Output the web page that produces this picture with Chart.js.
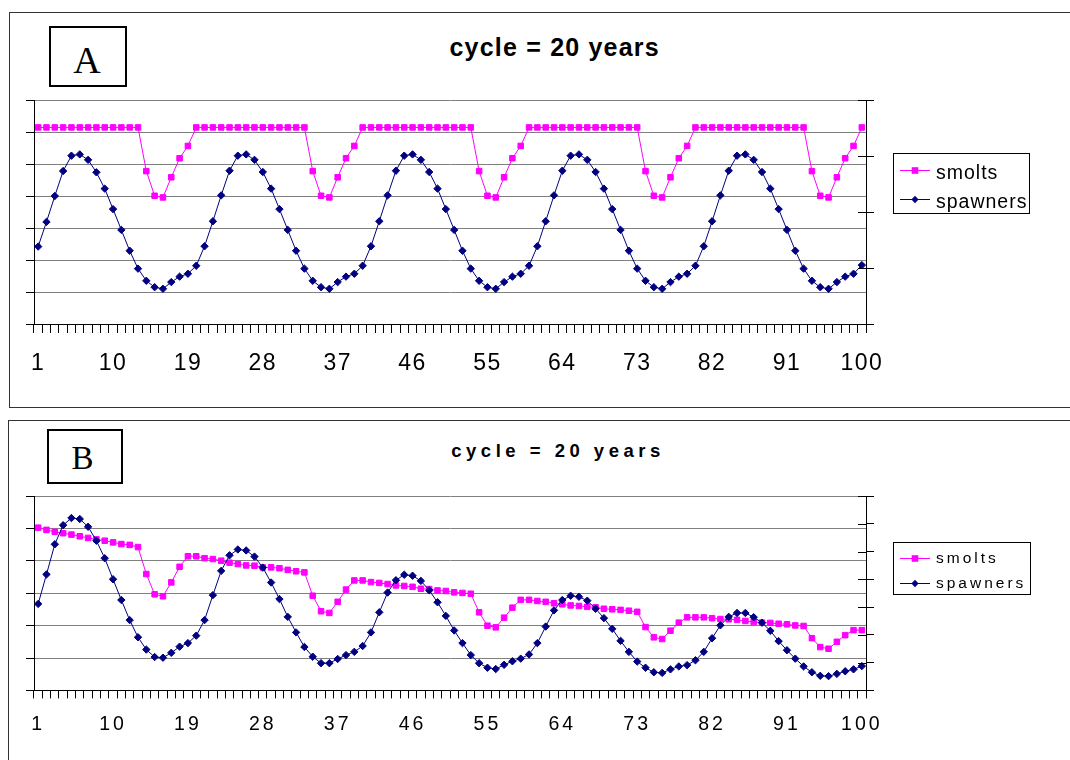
<!DOCTYPE html>
<html>
<head>
<meta charset="utf-8">
<script src="https://cdn.jsdelivr.net/npm/chart.js@4.4.0/dist/chart.umd.min.js"></script>
<style>
  body { margin: 0; background: #fff; width: 1070px; height: 760px; overflow: hidden; position: relative;
         font-family: 'Liberation Sans', Arial, sans-serif; }
  .frame { position: absolute; border: 1px solid #333; }
  .tag { position: absolute; border: 2px solid #000; box-sizing: border-box; }
  .letter { position: absolute; left: 0; text-align: center; font-family: 'Liberation Serif', 'Times New Roman', serif; line-height: 1; }
  .title { position: absolute; left: 0; width: 1107px; text-align: center; font-weight: bold; line-height: 1; white-space: nowrap; }
  canvas { position: absolute; left: 0; }
</style>
</head>
<body>
<div class="frame" style="left:9px;top:12px;width:1100px;height:394px"></div>
<div class="frame" style="left:8px;top:420px;width:1100px;height:400px"></div>

<div class="tag" style="left:49px;top:26px;width:78px;height:61px"></div>
<div class="letter" style="top:41px;width:174px;font-size:38px">A</div>
<div class="title" style="top:34.5px;font-size:25px;letter-spacing:1.2px;padding-left:1.2px">cycle = 20 years</div>

<div class="tag" style="left:47px;top:429px;width:76px;height:55px"></div>
<div class="letter" style="top:442px;width:165px;font-size:33px">B</div>
<div class="title" style="top:442px;font-size:18.5px;letter-spacing:4.5px;padding-left:4.5px">cycle = 20 years</div>

<canvas id="chartA" width="1070" height="410" style="top:0"></canvas>
<canvas id="chartB" width="1070" height="350" style="top:410px"></canvas>

<script>
// years 1..100
const years = [
  1, 2, 3, 4, 5, 6, 7, 8, 9, 10, 11, 12, 13, 14, 15, 16, 17, 18, 19, 20,
  21, 22, 23, 24, 25, 26, 27, 28, 29, 30, 31, 32, 33, 34, 35, 36, 37, 38, 39, 40,
  41, 42, 43, 44, 45, 46, 47, 48, 49, 50, 51, 52, 53, 54, 55, 56, 57, 58, 59, 60,
  61, 62, 63, 64, 65, 66, 67, 68, 69, 70, 71, 72, 73, 74, 75, 76, 77, 78, 79, 80,
  81, 82, 83, 84, 85, 86, 87, 88, 89, 90, 91, 92, 93, 94, 95, 96, 97, 98, 99, 100
];
const seriesNames = ['smolts', 'spawners'];

// panel A (right axis 0-4 for smolts, left axis 0-7 for spawners)
const smoltsA = [
  3.51, 3.51, 3.51, 3.51, 3.51, 3.51, 3.51, 3.51, 3.51, 3.51,
  3.51, 3.51, 3.51, 2.73, 2.29, 2.26, 2.62, 2.96, 3.18, 3.51,
  3.51, 3.51, 3.51, 3.51, 3.51, 3.51, 3.51, 3.51, 3.51, 3.51,
  3.51, 3.51, 3.51, 2.73, 2.29, 2.26, 2.62, 2.96, 3.18, 3.51,
  3.51, 3.51, 3.51, 3.51, 3.51, 3.51, 3.51, 3.51, 3.51, 3.51,
  3.51, 3.51, 3.51, 2.73, 2.29, 2.26, 2.62, 2.96, 3.18, 3.51,
  3.51, 3.51, 3.51, 3.51, 3.51, 3.51, 3.51, 3.51, 3.51, 3.51,
  3.51, 3.51, 3.51, 2.73, 2.29, 2.26, 2.62, 2.96, 3.18, 3.51,
  3.51, 3.51, 3.51, 3.51, 3.51, 3.51, 3.51, 3.51, 3.51, 3.51,
  3.51, 3.51, 3.51, 2.73, 2.29, 2.26, 2.62, 2.96, 3.18, 3.51
];
const spawnersA = [
  2.42, 3.19, 4.00, 4.78, 5.26, 5.30, 5.13, 4.74, 4.23, 3.59,
  2.94, 2.29, 1.73, 1.35, 1.15, 1.10, 1.31, 1.48, 1.57, 1.82,
  2.43, 3.21, 4.02, 4.79, 5.26, 5.30, 5.13, 4.75, 4.23, 3.59,
  2.94, 2.29, 1.73, 1.35, 1.15, 1.10, 1.31, 1.48, 1.57, 1.82,
  2.43, 3.21, 4.02, 4.79, 5.26, 5.30, 5.13, 4.75, 4.23, 3.59,
  2.94, 2.29, 1.73, 1.35, 1.15, 1.10, 1.31, 1.48, 1.57, 1.82,
  2.43, 3.21, 4.02, 4.79, 5.26, 5.30, 5.13, 4.75, 4.23, 3.59,
  2.94, 2.29, 1.73, 1.35, 1.15, 1.10, 1.31, 1.48, 1.57, 1.82,
  2.43, 3.21, 4.02, 4.79, 5.26, 5.30, 5.13, 4.75, 4.23, 3.59,
  2.94, 2.29, 1.73, 1.35, 1.15, 1.10, 1.31, 1.48, 1.57, 1.84
];

// panel B (right axis 0-7 for smolts, left axis 0-6 for spawners)
const smoltsB = [
  5.86, 5.78, 5.71, 5.66, 5.61, 5.55, 5.49, 5.44, 5.39, 5.33,
  5.27, 5.24, 5.16, 4.19, 3.46, 3.39, 3.89, 4.45, 4.83, 4.83,
  4.76, 4.73, 4.67, 4.60, 4.55, 4.50, 4.49, 4.43, 4.43, 4.40,
  4.34, 4.29, 4.25, 3.41, 2.85, 2.79, 3.19, 3.63, 3.96, 3.96,
  3.90, 3.87, 3.83, 3.78, 3.76, 3.73, 3.66, 3.65, 3.60, 3.58,
  3.53, 3.51, 3.48, 2.81, 2.33, 2.27, 2.62, 2.98, 3.26, 3.26,
  3.22, 3.19, 3.14, 3.10, 3.06, 3.04, 3.01, 2.99, 2.94, 2.92,
  2.90, 2.87, 2.83, 2.28, 1.91, 1.85, 2.15, 2.44, 2.63, 2.63,
  2.63, 2.60, 2.57, 2.56, 2.54, 2.50, 2.46, 2.44, 2.43, 2.40,
  2.38, 2.34, 2.32, 1.88, 1.56, 1.50, 1.75, 1.99, 2.17, 2.17
];
const spawnersB = [
  2.67, 3.58, 4.51, 5.10, 5.32, 5.29, 5.05, 4.62, 4.08, 3.43,
  2.79, 2.17, 1.64, 1.26, 1.03, 1.01, 1.16, 1.35, 1.46, 1.69,
  2.17, 2.94, 3.69, 4.17, 4.35, 4.32, 4.13, 3.79, 3.33, 2.82,
  2.27, 1.79, 1.34, 1.04, 0.84, 0.84, 0.97, 1.09, 1.19, 1.37,
  1.79, 2.41, 3.02, 3.40, 3.57, 3.54, 3.38, 3.09, 2.72, 2.30,
  1.85, 1.46, 1.09, 0.84, 0.70, 0.66, 0.79, 0.90, 0.98, 1.11,
  1.46, 1.97, 2.47, 2.79, 2.92, 2.89, 2.77, 2.52, 2.23, 1.90,
  1.53, 1.19, 0.89, 0.70, 0.56, 0.54, 0.65, 0.74, 0.78, 0.93,
  1.19, 1.61, 2.01, 2.27, 2.39, 2.39, 2.26, 2.09, 1.84, 1.52,
  1.24, 0.98, 0.74, 0.56, 0.45, 0.44, 0.51, 0.59, 0.65, 0.75
];

const labelEvery = 9;
const FONT = "'Liberation Sans', Arial, sans-serif";

// letter spacing for the tick labels (canvas state, kept through chart.js save/restore)
const textSpacing = {
  id: 'textSpacing',
  beforeDraw(chart, args, opts) {
    chart.ctx.letterSpacing = opts.spacing || '0px';
  }
};

// the right axis ticks cross the axis line
const crossTicks = {
  id: 'crossTicks',
  afterDraw(chart) {
    const s = chart.scales.y2;
    const ctx = chart.ctx;
    ctx.save();
    ctx.strokeStyle = '#000';
    ctx.lineWidth = 1;
    ctx.beginPath();
    s.ticks.forEach((t, i) => {
      const y = Math.round(s.getPixelForTick(i)) + 0.5;
      ctx.moveTo(s.left - 8, y);
      ctx.lineTo(s.left, y);
    });
    ctx.stroke();
    ctx.restore();
  }
};

// boxed legend at the right, like the old spreadsheet charts
const legendBox = {
  id: 'legendBox',
  afterDraw(chart, args, o) {
    const ctx = chart.ctx;
    ctx.save();
    ctx.strokeStyle = '#000';
    ctx.lineWidth = 1;
    ctx.strokeRect(o.x + 0.5, o.y + 0.5, o.w, o.h);
    ctx.font = o.font;
    ctx.letterSpacing = o.spacing;
    ctx.textBaseline = 'alphabetic';
    ctx.textAlign = 'left';
    chart.data.datasets.forEach((ds, i) => {
      const y = o.lines[i] + 0.5;
      const mx = o.x + 22;
      ctx.strokeStyle = ds.borderColor;
      ctx.beginPath();
      ctx.moveTo(o.x + 7, y);
      ctx.lineTo(o.x + 37, y);
      ctx.stroke();
      ctx.fillStyle = ds.borderColor;
      ctx.beginPath();
      if (ds.pointStyle === 'rect') {
        ctx.rect(mx - 3.3, y - 3.3, 6.6, 6.6);
      } else {
        ctx.moveTo(mx, y - 3.8);
        ctx.lineTo(mx + 3.6, y);
        ctx.lineTo(mx, y + 3.8);
        ctx.lineTo(mx - 3.6, y);
        ctx.closePath();
      }
      ctx.fill();
      ctx.fillStyle = '#000';
      ctx.fillText(ds.label, o.x + 43, o.base[i]);
    });
    ctx.restore();
  }
};

function makePanel(id, smolts, spawners, p) {
  return new Chart(document.getElementById(id), {
    type: 'line',
    data: {
      labels: years,
      datasets: [
        {
          label: seriesNames[0], data: smolts, yAxisID: 'y2', order: 1,
          borderColor: '#ff00ff', backgroundColor: '#ff00ff', borderWidth: 1,
          pointStyle: 'rect', pointRadius: 3.9, pointBorderWidth: 1, tension: 0
        },
        {
          label: seriesNames[1], data: spawners, yAxisID: 'y', order: 0,
          borderColor: '#000080', backgroundColor: '#000080', borderWidth: 1,
          pointStyle: 'rectRot', pointRadius: 3.7, pointBorderWidth: 1, tension: 0
        }
      ]
    },
    options: {
      responsive: false,
      animation: false,
      devicePixelRatio: 1,
      layout: { padding: { top: p.top, left: 0, right: 0, bottom: 0 } },
      plugins: {
        legend: { display: false },
        tooltip: { enabled: false },
        title: { display: false },
        textSpacing: { spacing: p.tickSpacing },
        legendBox: p.legend
      },
      scales: {
        x: {
          type: 'category',
          offset: true,
          grid: { offset: true, drawOnChartArea: false, tickLength: p.xTick, tickColor: '#000' },
          border: { color: '#000' },
          ticks: {
            autoSkip: false, maxRotation: 0, minRotation: 0,
            padding: p.xPad, color: '#000',
            font: { family: FONT, size: p.xFont },
            callback(v, i) { return i % labelEvery === 0 ? this.getLabelForValue(v) : ''; }
          },
          afterFit(s) { s.height = p.xHeight; }
        },
        y: {
          position: 'left', min: 0, max: p.yMax,
          ticks: { display: false, stepSize: 1 },
          grid: {
            color: c => (c.tick && c.tick.value === 0) ? 'rgba(0,0,0,0)' : '#808080',
            tickColor: '#000', tickLength: 8
          },
          border: { color: '#000' },
          afterFit(s) { s.width = 34; }
        },
        y2: {
          position: 'right', min: 0, max: p.y2Max,
          ticks: { display: false, stepSize: 1 },
          grid: { drawOnChartArea: false, tickColor: '#000', tickLength: 8 },
          border: { color: '#000' },
          afterFit(s) { s.width = 204; }
        }
      }
    },
    plugins: [textSpacing, legendBox, crossTicks]
  });
}

makePanel('chartA', smoltsA, spawnersA, {
  top: 100, xHeight: 86, xTick: 9, xPad: 16.5, xFont: 23, tickSpacing: '1.5px',
  yMax: 7, y2Max: 4,
  legend: { x: 893, y: 153, w: 136, h: 60, font: "19.5px " + FONT, spacing: '1px',
            lines: [170, 199], base: [179, 208] }
});

makePanel('chartB', smoltsB, spawnersB, {
  top: 86, xHeight: 69.6, xTick: 8, xPad: 15, xFont: 19.5, tickSpacing: '3px',
  yMax: 6, y2Max: 7,
  legend: { x: 893, y: 132, w: 137, h: 52, font: "15.5px " + FONT, spacing: '3px',
            lines: [148, 173], base: [153, 178] }
});
</script>
</body>
</html>
